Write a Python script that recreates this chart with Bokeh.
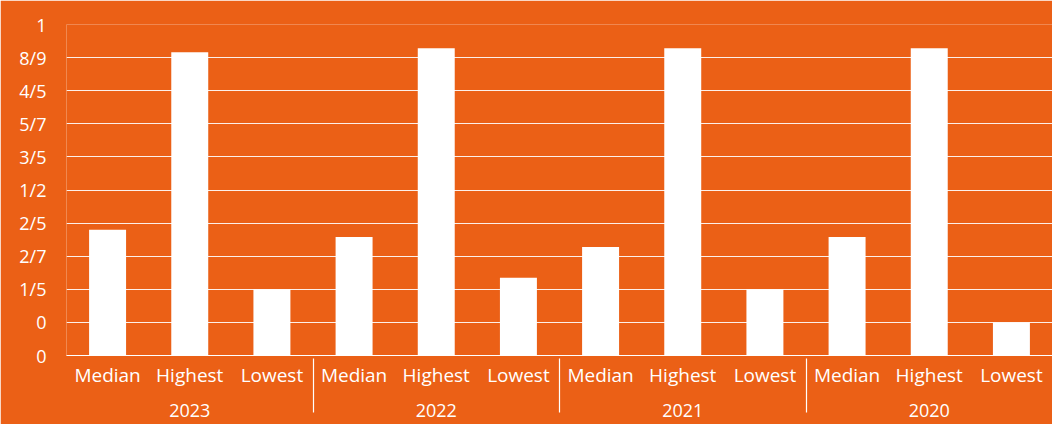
from bokeh.plotting import figure
from bokeh.models import FactorRange, FixedTicker, ColumnDataSource
from bokeh.embed import file_html
from bokeh.resources import INLINE

years = ["2023", "2022", "2021", "2020"]
measures = ["Median", "Highest", "Lowest"]
median = [0.38, 0.358, 0.328, 0.358]
highest = [0.916, 0.928, 0.928, 0.928]
lowest = [0.2, 0.235, 0.2, 0.1]
y_ticks = [0, 0.1, 0.2, 0.3, 0.4, 0.5, 0.6, 0.7, 0.8, 0.9, 1]
y_tick_labels = ["0", "0", "1/5", "2/7", "2/5", "1/2", "3/5", "5/7", "4/5", "8/9", "1"]

BG = "#EB6016"
FONT = "Open Sans"

x = []
vals = []
for i, yr in enumerate(years):
    for m, series in zip(measures, [median, highest, lowest]):
        # leading newline only pushes the year label a little lower
        x.append(("\n" + yr, m))
        vals.append(series[i])
src = ColumnDataSource(dict(x=x, v=vals))

p = figure(width=1052, height=424, x_range=FactorRange(*x, group_padding=0, range_padding=0),
           y_range=(0, 1), output_backend="svg", toolbar_location=None)
p.min_border_left = 66
p.min_border_right = 0
p.min_border_top = 24
p.min_border_bottom = 68
p.background_fill_color = BG
p.border_fill_color = BG
p.outline_line_color = None

p.vbar(x="x", top="v", width=0.45, source=src, fill_color="white", line_color=None)

p.xgrid.grid_line_color = None
p.ygrid.grid_line_color = "white"
p.ygrid.grid_line_alpha = 0.9
p.ygrid.grid_line_width = 1.2

p.yaxis.ticker = FixedTicker(ticks=y_ticks)
p.yaxis.major_label_overrides = {t: l for t, l in zip(y_ticks, y_tick_labels)}
p.yaxis.axis_line_color = None
p.yaxis.major_tick_line_color = None
p.yaxis.minor_tick_line_color = None
p.yaxis.major_label_text_color = "white"
p.yaxis.major_label_text_font = FONT
p.yaxis.major_label_text_font_size = "18px"
p.yaxis.major_label_standoff = 14

xa = p.xaxis[0]
xa.axis_line_color = "white"
xa.axis_line_width = 1.2
xa.major_tick_line_color = None
xa.minor_tick_line_color = None
xa.major_label_text_color = "white"
xa.major_label_text_font = FONT
xa.major_label_text_font_size = "19px"
xa.major_label_standoff = 0
xa.group_text_color = "white"
xa.group_text_font = FONT
xa.group_text_font_size = "18px"
xa.group_text_font_style = "normal"
xa.group_text_line_height = 0.3
xa.separator_line_color = "white"
xa.separator_line_width = 1.2

open("out.html", "w").write(file_html(p, INLINE))
